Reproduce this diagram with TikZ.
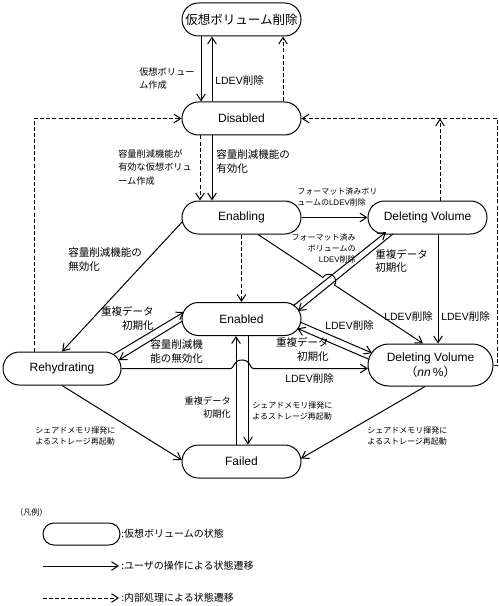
\documentclass[tikz,border=0pt]{standalone}
\usepackage{fontspec}
\setmainfont{Noto Sans CJK JP}
\newfontfamily\lsans{Liberation Sans}
\usetikzlibrary{arrows.meta,calc}
\newcommand\fzNode{\fontsize{9}{11.25}\selectfont}
\newcommand\fzTitle{\fontsize{9.4}{11.25}\selectfont}
\newcommand\fzL{\fontsize{7.9}{10}\selectfont}
\newcommand\fzT{\fontsize{7.5}{10}\selectfont}
\newcommand\fzM{\fontsize{6.9}{9.9}\selectfont}
\newcommand\fzS{\fontsize{6}{8.25}\selectfont}
\newcommand\lat[1]{{\lsans #1}}
\tikzset{
  st/.style={draw, line width=0.75pt, rounded corners=12.3pt, minimum width=89.25pt,
    minimum height=24.75pt, inner sep=0pt, font=\fzNode\lsans, align=center},
  ua/.style={line width=0.75pt, -{Straight Barb[length=5pt,width=6.5pt,line width=0.75pt]}},
  ia/.style={ua, dash pattern=on 3pt off 1.6pt},
  lb/.style={inner sep=0pt, font=\fzL, align=left, anchor=west},
  rb/.style={inner sep=0pt, font=\fzL, align=right, anchor=east},
}
\begin{document}
\begin{tikzpicture}[x=0.75pt,y=-0.75pt]
\useasboundingbox (0,0) rectangle (499,606);
\fill[white] (0,0) rectangle (499,606);

% states
\node[st, font=\fzTitle] (del) at (241.5,19.5) {仮想ボリューム削除};
\node[st] (dis) at (241.5,118.5) {Disabled};
\node[st] (eng) at (241.5,217.5) {Enabling};
\node[st] (dvt) at (427.5,217.5) {Deleting Volume};
\node[st] (end) at (241.5,319) {Enabled};
\node[st, minimum width=93.75pt, minimum height=31.5pt, rounded corners=15.5pt] (dvn) at (430.5,365) {Deleting Volume\\{\rmfamily（}{\itshape nn}\,\%{\rmfamily ）}};
\node[st, minimum width=88.5pt] (reh) at (62,368.5) {Rehydrating};
\node[st] (fai) at (241.5,461.5) {Failed};

% top transitions
\draw[ua] ($(del.south)+(-40.5,0)$) -- ($(dis.north)+(-40.5,0)$);
\draw[ua] ($(dis.north)+(-29.5,0)$) -- ($(del.south)+(-29.5,0)$);
\draw[ia] ($(dis.north)+(41.5,0)$) -- ($(del.south)+(41.5,0)$);
\node[lb, font=\fzM] (l1) at (139,78.5) {仮想ボリュー\\ム作成};
\node[lb] (l2) at (215,80) {\lat{LDEV}削除};

% Disabled -> Enabling
\draw[ia] ($(dis.south)+(-41.5,0)$) -- ($(eng.north)+(-41.5,0)$);
\draw[ua] ($(dis.south)+(-29.5,0)$) -- ($(eng.north)+(-29.5,0)$);
\node[lb, font=\fzM] (l3) at (118,167.5) {容量削減機能が\\有効な仮想ボリュ\\ーム作成};
\node[lb] (l4) at (216,161.5) {容量削減機能の\\有効化};

% Enabling -> Enabled
\draw[ia] (eng.south) -- (end.north);

% Enabling -> Deleting Volume
\draw[ua] (eng.east) -- (dvt.west);
\node[lb, font=\fzS] (l5) at (297,196.5) {フォーマット済みボリ\\ュームの\lat{LDEV}削除};

% Enabling -> Deleting Volume (nn%) with hop
\coordinate (eS) at ($(eng.south)+(16.5,0)$);
\coordinate (eT) at ($(dvn.north)+(-7.5,0)$);
\draw[ua] (eS) -- ($(eS)!0.3931!(eT)$) arc[start angle=146.55, end angle=-33.45, radius=5.25pt] -- (eT);
\node[lb] (l9) at (384,316) {\lat{LDEV}削除};

% Enabling -> Rehydrating
\draw[ua] ($(eng.west)+(0.6,4.5)$) -- (reh.north);
\node[lb] (l6) at (68,259.5) {容量削減機能の\\無効化};

% Enabled <-> Deleting Volume
\draw[ua] ($(end)+(51.5,-13)$) -- ($(dvt)+(-41.5,14.5)$);
\draw[ua] ($(dvt)+(-34.5,16.5)$) -- ($(end)+(56.5,-8)$);
\node[rb, font=\fzS] (l7) at (356,248) {フォーマット済み\\ボリュームの\\\lat{LDEV}削除};
\node[lb] (l8) at (375,261) {重複データ\\初期化};

% Deleting Volume -> Deleting Volume (nn%)
\draw[ua] ($(dvt.south)+(10.5,0)$) -- ($(dvn.north)+(7.5,0)$);
\node[lb] (l10) at (441,316) {\lat{LDEV}削除};

% Enabled <-> Deleting Volume (nn%)
\draw[ua] ($(end)+(58.5,3)$) -- ($(dvn)+(-58.5,-12)$);
\draw[ua] ($(dvn)+(-61.3,-5.6)$) -- ($(end)+(55.7,9.4)$);
\node[lb] (l13) at (325,325) {\lat{LDEV}削除};
\node[rb] (l14) at (329,349.5) {重複データ\\初期化};

% Enabled <-> Rehydrating
\draw[ua] ($(reh)+(52,-14.5)$) -- ($(end)+(-57.5,-7)$);
\draw[ua] ($(end)+(-59,2)$) -- ($(reh)+(57,-8.5)$);
\node[rb, font={\fontsize{7.9}{10.5}\selectfont}] (l11) at (154,318) {重複データ\\初期化};
\node[lb] (l12) at (150,351.5) {容量削減機\\能の無効化};

% Rehydrating -> Deleting Volume (nn%) with hop
\draw[ua] (reh.east) -- (231,368.5) .. controls (234,368.5) and (233,360) .. (242,360)
  .. controls (251,360) and (250,368.5) .. (253,368.5) -- ($(dvn.west)+(0.3,3.5)$);
\node[lb] (l15) at (285,378) {\lat{LDEV}削除};

% Enabled <-> Failed
\draw[ua] ($(fai.north)+(-5.5,0)$) -- ($(end.south)+(-5.5,0)$);
\draw[ua] ($(end.south)+(6.5,0)$) -- ($(fai.north)+(6.5,0)$);
\node[rb, font=\fzM] (l16) at (231,407.5) {重複データ\\初期化};
\node[lb, font=\fzS] (l17) at (252,411) {シェアドメモリ揮発に\\よるストレージ再起動};

% to Failed
\draw[ua] (reh.south) -- ($(fai.west)+(0.3,-1.5)$);
\node[lb, font=\fzS] (l18) at (35,435.5) {シェアドメモリ揮発に\\よるストレージ再起動};
\draw[ua] ($(dvn.south)+(-5.5,0)$) -- ($(fai.east)+(-0.5,-3)$);
\node[lb, font=\fzS] (l19) at (367,435.5) {シェアドメモリ揮発に\\よるストレージ再起動};

% internal returns to Disabled
\draw[ia] (dvn.east) -- ++(4,0) |- (dis.east);
\coordinate (dvtN) at ($(dvt.north)+(12.5,0)$);
\draw[ia] (dvtN) -- (dvtN |- dis.east);
\draw[ia] ($(reh.north)+(-28,0)$) |- (dis.west);

% legend
\node[lb, font=\fzS] (lg0) at (15,512) {（凡例）};
\node[st, minimum width=57.75pt, minimum height=16.5pt, rounded corners=8.2pt] (leg) at (81.5,534) {};
\node[lb, font=\fzT] (lg1) at (121,534) {:仮想ボリュームの状態};
\coordinate (la1) at (43,566);
\coordinate (lb1) at (119,566);
\draw[ua] (la1) -- (lb1);
\node[lb, font=\fzT] (lg2) at (121,566) {:ユーザの操作による状態遷移};
\coordinate (la2) at (43,598);
\coordinate (lb2) at (119,598);
\draw[ia] (la2) -- (lb2);
\node[lb, font=\fzT] (lg3) at (121,598) {:内部処理による状態遷移};
\end{tikzpicture}
\end{document}
